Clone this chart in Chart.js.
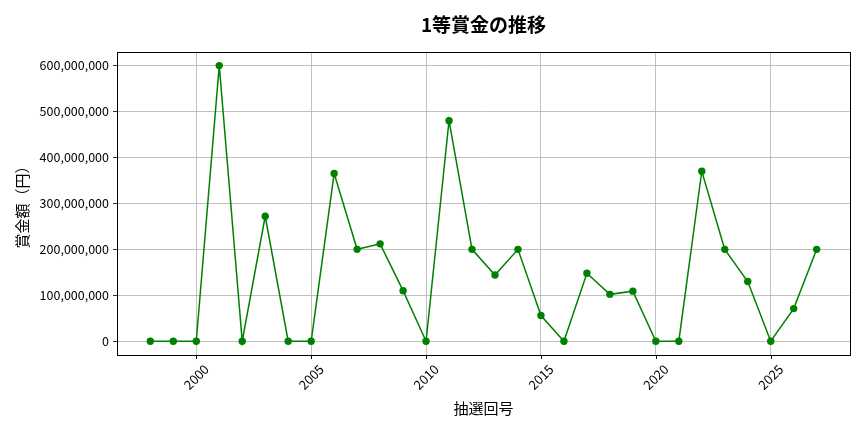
<!DOCTYPE html>
<html>
<head>
<meta charset="utf-8">
<script src="https://cdn.jsdelivr.net/npm/chart.js@4/dist/chart.umd.min.js"></script>
<style>
  html, body { margin: 0; padding: 0; background: #fff; }
  #wrap { width: 864px; height: 432px; }
</style>
</head>
<body>
<div id="wrap"><canvas id="c" width="864" height="432"></canvas></div>
<script>
const years = [1998,1999,2000,2001,2002,2003,2004,2005,2006,2007,2008,2009,2010,2011,2012,2013,2014,2015,2016,2017,2018,2019,2020,2021,2022,2023,2024,2025,2026,2027];
const prizes = [0,0,0,600000000,0,272000000,0,0,365000000,200000000,212000000,110000000,0,480000000,200000000,144000000,200000000,56000000,0,148000000,102000000,109000000,0,0,370000000,200000000,130000000,0,71000000,200000000];
const xTicks = [2000,2005,2010,2015,2020,2025];
const yTicks = [0,100000000,200000000,300000000,400000000,500000000,600000000];
const titleText = '1等賞金の推移';
const xTitle = '抽選回号';
const yTitle = '賞金額（円）';

const FONT = "'Noto Sans CJK JP', 'Noto Sans', sans-serif";

const framePlugin = {
  id: 'frame',
  afterDraw(chart) {
    const {ctx, chartArea: a} = chart;
    ctx.save();
    ctx.strokeStyle = '#000';
    ctx.lineWidth = 1;
    ctx.strokeRect(Math.round(a.left) + 0.5, Math.round(a.top) + 0.5, Math.round(a.right - a.left), Math.round(a.bottom - a.top));
    // x tick labels rotated 45°, centered on tick
    const xs = chart.scales.x;
    ctx.fillStyle = '#000';
    ctx.font = '13px ' + FONT;
    ctx.textAlign = 'center';
    ctx.textBaseline = 'middle';
    xTicks.forEach(v => {
      const px = xs.getPixelForValue(v);
      ctx.save();
      ctx.translate(px, a.bottom + 22);
      ctx.rotate(-Math.PI / 4);
      ctx.fillText(String(v), 0, 0);
      ctx.restore();
      ctx.beginPath();
      ctx.strokeStyle = '#000';
      ctx.moveTo(Math.round(px) + 0.5, a.bottom);
      ctx.lineTo(Math.round(px) + 0.5, a.bottom + 4);
      ctx.stroke();
    });
    ctx.restore();
  }
};

new Chart(document.getElementById('c'), {
  type: 'line',
  data: {
    datasets: [{
      data: years.map((y, i) => ({x: y, y: prizes[i]})),
      borderColor: '#008000',
      backgroundColor: '#008000',
      borderWidth: 1.5,
      pointRadius: 3.7,
      pointHoverRadius: 3.7,
      pointBorderWidth: 0,
      tension: 0
    }]
  },
  options: {
    responsive: false,
    animation: false,
    layout: { padding: { left: 0, right: 14, top: 0, bottom: 0 } },
    plugins: {
      legend: { display: false },
      tooltip: { enabled: false },
      title: {
        display: true,
        text: titleText,
        fullSize: false,
        color: '#000',
        font: { family: FONT, size: 19, weight: 'bold' },
        padding: { top: 13, bottom: 16 }
      }
    },
    scales: {
      x: {
        type: 'linear',
        min: 1996.55,
        max: 2028.45,
        afterBuildTicks: s => { s.ticks = xTicks.map(v => ({value: v})); },
        afterFit: s => { s.height = 77; },
        grid: { color: '#b0b0b0', lineWidth: 0.8, drawTicks: false },
        border: { display: false },
        ticks: { display: false },
        title: {
          display: true, text: xTitle, color: '#000',
          font: { family: FONT, size: 15 },
          padding: { top: 15, bottom: 15 }
        }
      },
      y: {
        type: 'linear',
        min: -30000000,
        max: 630000000,
        afterBuildTicks: s => { s.ticks = yTicks.map(v => ({value: v})); },
        afterFit: s => { s.width = 117; },
        grid: { color: '#b0b0b0', lineWidth: 0.8, drawTicks: true, tickLength: 4, tickColor: '#000' },
        border: { display: false },
        ticks: {
          color: '#000',
          padding: 4,
          font: { family: FONT, size: 12.5 },
          callback: v => Number(v).toLocaleString('en-US')
        },
        title: {
          display: true, text: yTitle, color: '#000',
          font: { family: FONT, size: 15 },
          padding: { top: 13, bottom: 4 }
        }
      }
    }
  },
  plugins: [framePlugin]
});
</script>
</body>
</html>
